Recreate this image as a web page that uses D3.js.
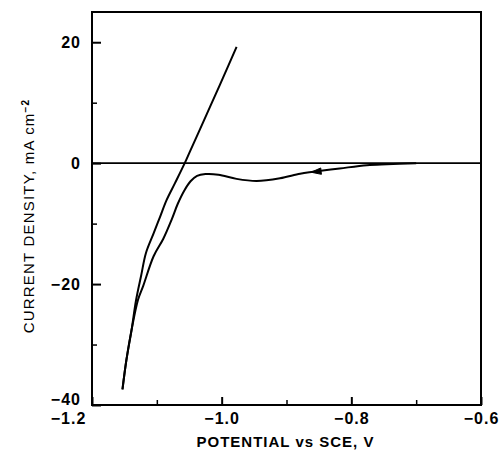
<!DOCTYPE html>
<html><head><meta charset="utf-8">
<script src="https://cdn.jsdelivr.net/npm/d3@7"></script>
<style>
html,body{margin:0;padding:0;background:#fff;}
svg{display:block;}
text{font-family:"Liberation Sans",Arial,Helvetica,sans-serif;fill:#000;}
</style></head>
<body><div id="chart"></div>
<script>
// ---- data ----
const xMajorTicks = [-1.2, -1.0, -0.8, -0.6];
const xMinorTicks = [-1.1, -0.9, -0.7];
const yMajorTicks = [-40, -20, 0, 20];
const yMinorTicks = [-30, -10, 10];
// cathodic (forward) sweep, from -0.70 V towards -1.15 V
const forwardPotential = [-0.700, -0.745, -0.776, -0.818, -0.859, -0.879, -0.910, -0.946, -0.977, -1.005, -1.025, -1.038, -1.048, -1.058, -1.068, -1.077, -1.090, -1.105, -1.121, -1.129, -1.139, -1.147, -1.153];
const forwardCurrent   = [0.0, -0.17, -0.33, -0.88, -1.44, -1.75, -2.50, -2.95, -2.60, -1.90, -1.80, -2.10, -3.00, -4.60, -6.80, -9.30, -12.50, -15.40, -20.30, -22.60, -27.60, -32.60, -37.40];
// return sweep, from -1.153 V back to -0.977 V
const returnPotential = [-1.153, -1.147, -1.139, -1.132, -1.124, -1.117, -1.105, -1.095, -1.085, -1.072, -1.057, -1.049, -1.033, -1.018, -0.998, -0.977];
const returnCurrent   = [-37.40, -32.60, -27.60, -22.64, -18.51, -14.93, -11.62, -8.88, -6.12, -3.31, 0.0, 1.92, 5.70, 9.30, 14.10, 19.22];
const arrowAt = {potential: -0.862, current: -1.50};
const xTitle = "POTENTIAL vs SCE, V";
const yTitleMain = "CURRENT DENSITY, mA cm";
const yTitleSup = "−2";

// ---- layout ----
const W = 503, H = 461;
const svg = d3.select("#chart").append("svg").attr("width", W).attr("height", H);
const x = d3.scaleLinear().domain([-1.2, -0.6]).range([92, 481]);
const y = d3.scaleLinear().domain([-40, 25]).range([405, 12]);

const tickFont = "bold 16px 'Liberation Sans', Arial, sans-serif";

// frame
svg.append("rect").attr("x", x(-1.2)).attr("y", y(25))
  .attr("width", x(-0.6) - x(-1.2)).attr("height", y(-40) - y(25))
  .attr("fill", "none").attr("stroke", "#000").attr("stroke-width", 2);

// zero line
svg.append("line").attr("x1", x(-1.2)).attr("x2", x(-0.6))
  .attr("y1", y(0)).attr("y2", y(0)).attr("stroke", "#000").attr("stroke-width", 1.8);

// y axis major
const gy = svg.append("g").attr("transform", `translate(${x(-1.2)},0)`)
  .call(d3.axisLeft(y).tickValues(yMajorTicks).tickSizeInner(-9).tickSizeOuter(0).tickPadding(11).tickFormat(d3.format("d")));
gy.select(".domain").remove();
gy.selectAll("line").attr("stroke-width", 2);
gy.selectAll("text").style("font", tickFont).attr("letter-spacing", "1px");
gy.selectAll("text").filter(d => d === -40).attr("dy", "-0.05em");
// y axis minor
const gym = svg.append("g").attr("transform", `translate(${x(-1.2)},0)`)
  .call(d3.axisLeft(y).tickValues(yMinorTicks).tickSizeInner(-5).tickSizeOuter(0).tickFormat(""));
gym.select(".domain").remove();
gym.selectAll("line").attr("stroke-width", 1.5);

// x axis major
const gx = svg.append("g").attr("transform", `translate(0,${y(-40)})`)
  .call(d3.axisBottom(x).tickValues(xMajorTicks).tickSizeInner(-8).tickSizeOuter(0).tickPadding(8).tickFormat(d3.format(".1f")));
gx.select(".domain").remove();
gx.selectAll("line").attr("stroke-width", 2);
gx.selectAll("text").style("font", tickFont).attr("letter-spacing", "1px");
gx.selectAll("text").filter(d => d === -1.2).attr("dx", "-24");
// x axis minor
const gxm = svg.append("g").attr("transform", `translate(0,${y(-40)})`)
  .call(d3.axisBottom(x).tickValues(xMinorTicks).tickSizeInner(-5).tickSizeOuter(0).tickFormat(""));
gxm.select(".domain").remove();
gxm.selectAll("line").attr("stroke-width", 1.5);

// curves
const line = d3.line().x(d => x(d[0])).y(d => y(d[1])).curve(d3.curveCatmullRom.alpha(0.5));
const fwd = forwardPotential.map((p, i) => [p, forwardCurrent[i]]);
const ret = returnPotential.map((p, i) => [p, returnCurrent[i]]);
[fwd, ret].forEach(data => {
  svg.append("path").datum(data).attr("d", line)
    .attr("fill", "none").attr("stroke", "#000").attr("stroke-width", 2).attr("stroke-linejoin", "round");
});

// arrowhead on forward sweep, pointing toward more negative potential
{
  const tx = x(arrowAt.potential), ty = y(arrowAt.current);
  const ang = Math.atan2(y(-1.0) - y(-1.7), x(-0.82) - x(-0.88));
  const len = 10, hw = 3.2;
  const bx = tx + len * Math.cos(ang), by = ty + len * Math.sin(ang);
  const nx = -Math.sin(ang), ny = Math.cos(ang);
  svg.append("path")
    .attr("d", `M${tx},${ty}L${bx + nx*hw},${by + ny*hw}L${bx},${by}L${bx - nx*hw},${by - ny*hw}Z`)
    .attr("fill", "#000").attr("stroke", "#000").attr("stroke-width", 1);
}

// axis titles
svg.append("text").attr("x", (x(-1.2) + x(-0.6)) / 2 - 1).attr("y", 447)
  .attr("text-anchor", "middle").style("font", "bold 15px 'Liberation Sans', Arial, sans-serif")
  .attr("letter-spacing", "1px").text(xTitle);

const yt = svg.append("text").attr("transform", `translate(34,216) rotate(-90)`)
  .attr("text-anchor", "middle").style("font", "15px 'Liberation Sans', Arial, sans-serif")
  .attr("letter-spacing", "1.2px");
yt.append("tspan").text(yTitleMain);
yt.append("tspan").attr("dy", "-0.5em").style("font-size", "10px").style("font-weight", "bold").text(yTitleSup);
</script></body></html>
